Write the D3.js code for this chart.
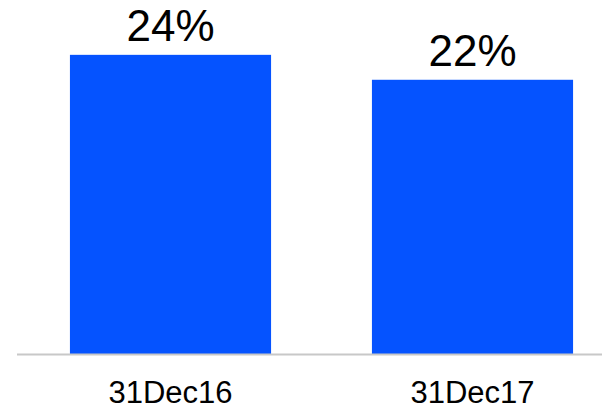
<!DOCTYPE html>
<html><head><meta charset="utf-8">
<script src="https://cdn.jsdelivr.net/npm/d3@7"></script>
<style>html,body{margin:0;padding:0;background:#fff;}</style>
</head><body>
<svg id="chart" width="602" height="409"></svg>
<script>
const categories = ["31Dec16", "31Dec17"];
const values = [24, 22];
const labels = ["24%", "22%"];

const svg = d3.select("#chart");
const baseY = 354;
const x = d3.scaleBand().domain(categories).range([19.5, 623.5]).paddingInner(0.334).paddingOuter(0.167);
const y = d3.scaleLinear().domain([0, 28.4]).range([baseY, 0]);

svg.selectAll("rect.bar").data(values).enter().append("rect")
  .attr("class", "bar")
  .attr("x", (d, i) => x(categories[i]))
  .attr("width", x.bandwidth())
  .attr("y", d => y(d))
  .attr("height", d => baseY - y(d))
  .attr("fill", "#0553FF");

svg.append("line").attr("x1", 17).attr("x2", 602).attr("y1", baseY + 0.5).attr("y2", baseY + 0.5)
  .attr("stroke", "#c8c8c8").attr("stroke-width", 2);

svg.selectAll("text.val").data(values).enter().append("text")
  .attr("class", "val")
  .attr("x", (d, i) => x(categories[i]) + x.bandwidth() / 2)
  .attr("y", d => y(d) - 14)
  .attr("text-anchor", "middle")
  .attr("font-family", "Liberation Sans, Arial, sans-serif")
  .attr("font-size", 44)
  .attr("fill", "#000")
  .text((d, i) => labels[i]);

svg.selectAll("text.cat").data(categories).enter().append("text")
  .attr("class", "cat")
  .attr("x", d => x(d) + x.bandwidth() / 2)
  .attr("y", 403)
  .attr("text-anchor", "middle")
  .attr("font-family", "Liberation Sans, Arial, sans-serif")
  .attr("font-size", 31)
  .attr("fill", "#000")
  .text(d => d);
</script>
</body></html>
